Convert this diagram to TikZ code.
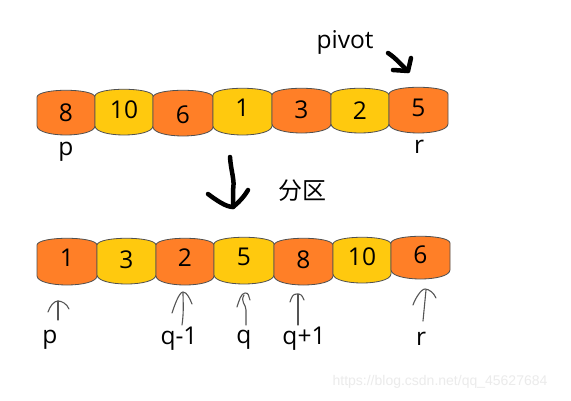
\documentclass[tikz,border=0pt]{standalone}
\usepackage{fontspec}
\setmainfont{Open Sans}
\newfontfamily\cjk{Noto Sans CJK SC}
\newfontfamily\wmfont{Liberation Sans}
\definecolor{orng}{HTML}{FF7F27}
\definecolor{yllw}{HTML}{FFC90E}
\definecolor{edge}{HTML}{505050}
\definecolor{thinc}{HTML}{555555}
\tikzset{
  barrel/.style={draw=edge,line width=0.8pt},
  num/.style={font=\fontsize{24.5}{26}\selectfont,inner sep=0pt},
  lbl/.style={font=\fontsize{24.5}{26}\selectfont,inner sep=0pt},
  thick arrow/.style={line width=4.5pt,line cap=round,line join=round,black},
  thin arrow/.style={line width=1.1pt,draw=thinc,line cap=round,line join=round},
}
\newcommand\mybarrel[8]{%
  \path[barrel,fill=#6] (#2,#4) .. controls ({#2+1},{#4-9}) and ({#3-1},{#4-9}) .. (#3,#4)
     -- (#3,#5) .. controls ({#3-1},{#5+12}) and ({#2+1},{#5+12}) .. (#2,#5) -- cycle;
  \node[num] (#1) at ({(#2+#3)/2},#8) {#7};%
}
\newcommand\myhead[6]{% left x,y ; tip x,y ; right x,y
  \draw[thin arrow] (#1,#2) .. controls ({#1+2},{#2-6}) and ({#3-4},#4) .. (#3,#4)
     .. controls ({#3+4},#4) and ({#5-2},{#6-5}) .. (#5,#6);}
\begin{document}
\begin{tikzpicture}[x=1pt,y=-1pt]
\useasboundingbox[fill=white] (0,0) rectangle (571,400);
% top row
\mybarrel{a1}{37}{95}{97}{126}{orng}{8}{113}
\mybarrel{a2}{95}{153}{96}{126}{yllw}{10}{110}
\mybarrel{a3}{153}{213}{97}{127}{orng}{6}{115}
\mybarrel{a4}{213}{272}{95}{126}{yllw}{1}{108}
\mybarrel{a5}{272}{331}{95}{124}{orng}{3}{110}
\mybarrel{a6}{331}{389}{95}{124}{yllw}{2}{111}
\mybarrel{a7}{389}{448}{94}{124}{orng}{5}{108}
% bottom row
\mybarrel{b1}{37}{97}{245}{276}{orng}{1}{258}
\mybarrel{b2}{97}{156}{245}{275}{yllw}{3}{260}
\mybarrel{b3}{156}{214}{245}{276}{orng}{2}{258}
\mybarrel{b4}{214}{274}{244}{275}{yllw}{5}{257}
\mybarrel{b5}{274}{333}{245}{276}{orng}{8}{260}
\mybarrel{b6}{333}{391}{244}{274}{yllw}{10}{257}
\mybarrel{b7}{391}{450}{243}{270}{orng}{6}{255}
% top labels
\node[lbl] (pivot) at (345,42) {pivot};
\node[lbl] (tp) at (66,152) {p};
\node[lbl] (tr) at (419,147) {r};
% pivot arrow
\coordinate (pvs) at (388,53);
\coordinate (pvt) at (408,71);
\draw[thick arrow] (pvs) .. controls (396,58) and (402,66) .. (pvt);
\draw[thick arrow] (393,70) -- (pvt) -- (411,58);
% big arrow
\coordinate (bas) at (230,157);
\coordinate (bat) at (233,207);
\draw[thick arrow] (bas) .. controls (231,172) and (235,180) .. (233,190) -- (bat);
\draw[thick arrow] (208,194) .. controls (216,200) and (226,207) .. (bat) .. controls (238,203) and (244,197) .. (248,190);
\node[font=\cjk\fontsize{24}{26}\selectfont,inner sep=0pt] (fq) at (302,191) {分区};
% bottom labels
\node[lbl] (bp) at (50,340) {p};
\node[lbl] (bq1) at (179,339) {q-1};
\node[lbl] (bq) at (244,340) {q};
\node[lbl] (bq2) at (304,339) {q+1};
\node[lbl] (br) at (421,339) {r};
% thin arrows
\draw[thin arrow] (58,320) -- (58,301);
\myhead{48}{312}{58}{301}{69}{309}
\draw[thin arrow] (182,325) .. controls (184,312) and (183,300) .. (183,293);
\myhead{172}{313}{183}{292}{192}{304}
\draw[thin arrow] (246,325) -- (246,310) .. controls (246,304) and (240,302) .. (244,295);
\myhead{237}{307}{245}{293}{250}{300}
\draw[thin arrow] (298,325) -- (298,294);
\myhead{290}{302}{297}{294}{304}{300}
\draw[thin arrow] (423,321) -- (426,290);
\myhead{413}{305}{425}{289}{436}{298}
% watermark
\node[font=\wmfont\fontsize{14}{16}\selectfont,text=black!8,inner sep=0pt] (wm) at (440,382) {https://blog.csdn.net/qq\_45627684};
\end{tikzpicture}
\end{document}
